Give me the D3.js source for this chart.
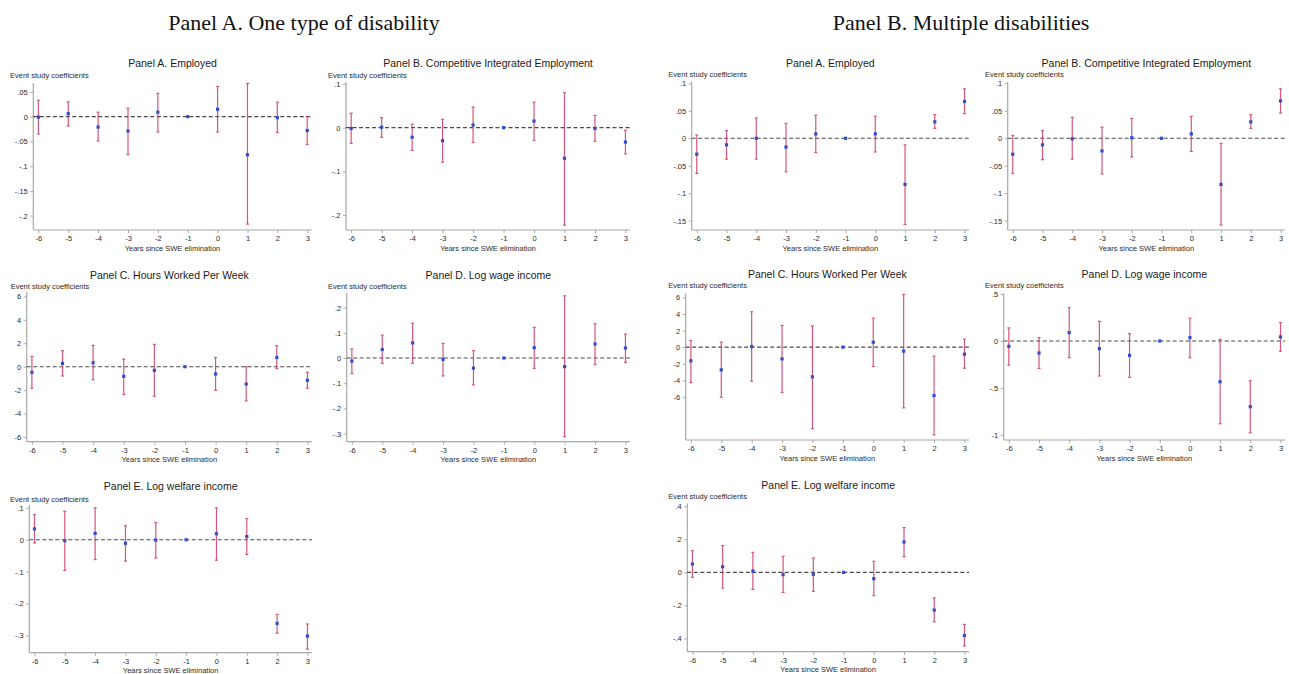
<!DOCTYPE html>
<html>
<head>
<meta charset="utf-8">
<script src="https://cdn.jsdelivr.net/npm/d3@7"></script>
<style>
  html, body { margin: 0; padding: 0; background: #fff; }
  svg { display: block; }
</style>
</head>
<body>
<svg id="chart" width="1289" height="674"></svg>
<script>
// Event-study years relative to elimination of sub-minimum wage employment
const years = [-6, -5, -4, -3, -2, -1, 0, 1, 2, 3];

// ---- One type of disability ----
const oneEmpCoef = [-0.001, 0.006, -0.021, -0.029, 0.009, 0, 0.015, -0.077, -0.002, -0.028];
const oneEmpLo   = [-0.035, -0.019, -0.049, -0.077, -0.031, 0, -0.031, -0.217, -0.032, -0.056];
const oneEmpHi   = [0.033, 0.030, 0.009, 0.017, 0.047, 0, 0.061, 0.067, 0.029, 0.000];

const oneCieCoef = [-0.002, 0.001, -0.022, -0.030, 0.006, 0, 0.015, -0.070, -0.002, -0.033];
const oneCieLo   = [-0.036, -0.022, -0.052, -0.079, -0.034, 0, -0.029, -0.223, -0.031, -0.060];
const oneCieHi   = [0.033, 0.023, 0.008, 0.019, 0.047, 0, 0.058, 0.080, 0.028, -0.006];

const oneHrsCoef = [-0.48, 0.28, 0.34, -0.82, -0.31, 0, -0.62, -1.48, 0.79, -1.16];
const oneHrsLo   = [-1.84, -0.79, -1.11, -2.38, -2.52, 0, -2.01, -2.92, -0.17, -1.84];
const oneHrsHi   = [0.88, 1.36, 1.82, 0.65, 1.90, 0, 0.79, 0.00, 1.79, -0.48];

const oneWageCoef = [-0.012, 0.034, 0.060, -0.005, -0.040, 0, 0.041, -0.034, 0.056, 0.040];
const oneWageLo   = [-0.061, -0.021, -0.021, -0.071, -0.106, 0, -0.041, -0.312, -0.026, -0.017];
const oneWageHi   = [0.036, 0.091, 0.138, 0.058, 0.029, 0, 0.122, 0.247, 0.136, 0.095];

const oneWelfCoef = [0.034, -0.003, 0.020, -0.011, -0.001, 0, 0.019, 0.010, -0.262, -0.302];
const oneWelfLo   = [-0.010, -0.096, -0.062, -0.067, -0.057, 0, -0.064, -0.046, -0.293, -0.343];
const oneWelfHi   = [0.079, 0.089, 0.100, 0.044, 0.054, 0, 0.100, 0.066, -0.234, -0.264];

// ---- Multiple disabilities ----
const multEmpCoef = [-0.029, -0.012, 0.000, -0.016, 0.008, 0, 0.008, -0.084, 0.030, 0.067];
const multEmpLo   = [-0.064, -0.038, -0.038, -0.061, -0.026, 0, -0.025, -0.157, 0.018, 0.045];
const multEmpHi   = [0.006, 0.014, 0.037, 0.027, 0.042, 0, 0.040, -0.012, 0.043, 0.090];

const multCieCoef = [-0.029, -0.012, -0.001, -0.023, 0.001, 0, 0.008, -0.084, 0.030, 0.068];
const multCieLo   = [-0.064, -0.039, -0.038, -0.065, -0.034, 0, -0.024, -0.158, 0.018, 0.046];
const multCieHi   = [0.005, 0.014, 0.038, 0.020, 0.036, 0, 0.040, -0.009, 0.043, 0.090];

const multHrsCoef = [-1.65, -2.74, 0.08, -1.41, -3.58, 0, 0.60, -0.48, -5.83, -0.85];
const multHrsLo   = [-4.27, -6.04, -4.10, -5.47, -9.82, 0, -2.33, -7.32, -10.58, -2.54];
const multHrsHi   = [0.80, 0.60, 4.27, 2.62, 2.58, 0, 3.50, 6.36, -1.09, 0.97];

const multWageCoef = [-0.057, -0.128, 0.089, -0.082, -0.153, 0, 0.036, -0.434, -0.700, 0.043];
const multWageLo   = [-0.256, -0.292, -0.178, -0.373, -0.387, 0, -0.178, -0.882, -0.978, -0.110];
const multWageHi   = [0.139, 0.036, 0.355, 0.210, 0.078, 0, 0.242, 0.018, -0.423, 0.196];

const multWelfCoef = [0.051, 0.034, 0.008, -0.014, -0.012, 0, -0.038, 0.184, -0.228, -0.382];
const multWelfLo   = [-0.030, -0.095, -0.103, -0.121, -0.115, 0, -0.141, 0.095, -0.299, -0.446];
const multWelfHi   = [0.131, 0.162, 0.121, 0.097, 0.087, 0, 0.067, 0.271, -0.154, -0.315];

// Y tick values and labels
const ticksEmp     = [0.05, 0, -0.05, -0.1, -0.15, -0.2];
const labelsEmp    = [".05", "0", "-.05", "-.1", "-.15", "-.2"];
const ticksCie     = [0.1, 0, -0.1, -0.2];
const labelsCie    = [".1", "0", "-.1", "-.2"];
const ticksHrs     = [6, 4, 2, 0, -2, -4, -6];
const labelsHrs    = ["6", "4", "2", "0", "-2", "-4", "-6"];
const ticksWage    = [0.2, 0.1, 0, -0.1, -0.2, -0.3];
const labelsWage   = [".2", ".1", "0", "-.1", "-.2", "-.3"];
const ticksWelf    = [0.1, 0, -0.1, -0.2, -0.3];
const labelsWelf   = [".1", "0", "-.1", "-.2", "-.3"];
const ticksMEmp    = [0.1, 0.05, 0, -0.05, -0.1, -0.15];
const labelsMEmp   = [".1", ".05", "0", "-.05", "-.1", "-.15"];
const ticksMWage   = [0.5, 0, -0.5, -1];
const labelsMWage  = [".5", "0", "-.5", "-1"];
const ticksMWelf   = [0.4, 0.2, 0, -0.2, -0.4];
const labelsMWelf  = [".4", ".2", "0", "-.2", "-.4"];

const groupTitles = ["Panel A. One type of disability", "Panel B. Multiple disabilities"];
const xTitle = "Years since SWE elimination";
const yTitle = "Event study coefficients";

// Panel definitions: data, axis domain and placement on the page
const panels = [
  { title: "Panel A. Employed", coef: oneEmpCoef, lo: oneEmpLo, hi: oneEmpHi,
    ticks: ticksEmp, labels: labelsEmp, domain: [-0.229, 0.068],
    box: { left: 33.3, right: 311.7, top: 83, bottom: 230, labelX: 10, labelY: 75, titleY: 63 } },
  { title: "Panel B. Competitive Integrated Employment", coef: oneCieCoef, lo: oneCieLo, hi: oneCieHi,
    ticks: ticksCie, labels: labelsCie, domain: [-0.234, 0.105],
    box: { left: 346, right: 630, top: 81.7, bottom: 230, labelX: 328, labelY: 75, titleY: 63 } },
  { title: "Panel C. Hours Worked Per Week", coef: oneHrsCoef, lo: oneHrsLo, hi: oneHrsHi,
    ticks: ticksHrs, labels: labelsHrs, domain: [-6.4, 6.4],
    box: { left: 26.7, right: 312, top: 291.7, bottom: 441.7, labelX: 10.7, labelY: 286, titleY: 275 } },
  { title: "Panel D. Log wage income", coef: oneWageCoef, lo: oneWageLo, hi: oneWageHi,
    ticks: ticksWage, labels: labelsWage, domain: [-0.332, 0.257],
    box: { left: 346.7, right: 630, top: 293.3, bottom: 441.7, labelX: 328, labelY: 286, titleY: 275 } },
  { title: "Panel E. Log welfare income", coef: oneWelfCoef, lo: oneWelfLo, hi: oneWelfHi,
    ticks: ticksWelf, labels: labelsWelf, domain: [-0.354, 0.109],
    box: { left: 29.3, right: 312, top: 505, bottom: 652.7, labelX: 10, labelY: 499, titleY: 486.7 } },

  { title: "Panel A. Employed", coef: multEmpCoef, lo: multEmpLo, hi: multEmpHi,
    ticks: ticksMEmp, labels: labelsMEmp, domain: [-0.167, 0.103],
    box: { left: 691.7, right: 969, top: 81.7, bottom: 230, labelX: 668.3, labelY: 74.5, titleY: 63 } },
  { title: "Panel B. Competitive Integrated Employment", coef: multCieCoef, lo: multCieLo, hi: multCieHi,
    ticks: ticksMEmp, labels: labelsMEmp, domain: [-0.167, 0.103],
    box: { left: 1007.7, right: 1285, top: 81.7, bottom: 230, labelX: 985, labelY: 74.5, titleY: 63 } },
  { title: "Panel C. Hours Worked Per Week", coef: multHrsCoef, lo: multHrsLo, hi: multHrsHi,
    ticks: ticksHrs, labels: labelsHrs, domain: [-11.2, 6.5],
    box: { left: 685.7, right: 969, top: 293.3, bottom: 440, labelX: 668.3, labelY: 285, titleY: 274 } },
  { title: "Panel D. Log wage income", coef: multWageCoef, lo: multWageLo, hi: multWageHi,
    ticks: ticksMWage, labels: labelsMWage, domain: [-1.055, 0.508],
    box: { left: 1003.7, right: 1285, top: 293.3, bottom: 440, labelX: 985, labelY: 285, titleY: 274 } },
  { title: "Panel E. Log welfare income", coef: multWelfCoef, lo: multWelfLo, hi: multWelfHi,
    ticks: ticksMWelf, labels: labelsMWelf, domain: [-0.48, 0.418],
    box: { left: 687.3, right: 969, top: 503.3, bottom: 651.7, labelX: 668.3, labelY: 496, titleY: 485 } }
];

const svg = d3.select("#chart");
const sans = "'Liberation Sans', Arial, sans-serif";
const axisColor = "#a8a8a8";
const textColor = "#2b2b2b";
const ciColor = "#cf3a64";
const pointColor = "#2d4fcf";

// Group headings
const headingX = [304, 961];
svg.selectAll("text.heading").data(groupTitles).join("text")
  .attr("class", "heading")
  .attr("x", (d, i) => headingX[i])
  .attr("y", 30)
  .attr("text-anchor", "middle")
  .attr("font-family", "'Liberation Serif', 'Times New Roman', serif")
  .attr("font-size", 22)
  .attr("fill", "#111")
  .text(d => d);

panels.forEach(p => {
  const b = p.box;
  const x = d3.scaleLinear().domain([-6.17, 3.15]).range([b.left, b.right]);
  const y = d3.scaleLinear().domain(p.domain).range([b.bottom, b.top]);
  const g = svg.append("g");

  // panel title
  g.append("text")
    .attr("x", (b.left + b.right) / 2)
    .attr("y", b.titleY)
    .attr("dy", "0.35em")
    .attr("text-anchor", "middle")
    .attr("font-family", sans)
    .attr("font-size", 10.5)
    .attr("fill", "#1a1a1a")
    .text(p.title);

  // y axis title (horizontal, above the axis)
  g.append("text")
    .attr("x", b.labelX)
    .attr("y", b.labelY)
    .attr("dy", "0.35em")
    .attr("font-family", sans)
    .attr("font-size", 7.5)
    .attr("fill", textColor)
    .text(yTitle);

  // y axis
  const yAxis = d3.axisLeft(y)
    .tickValues(p.ticks)
    .tickFormat((d, i) => p.labels[i])
    .tickSize(3)
    .tickPadding(2.5);
  const ya = g.append("g").attr("transform", `translate(${b.left},0)`).call(yAxis);
  ya.select(".domain").remove();
  ya.append("line")
    .attr("x1", 0).attr("x2", 0)
    .attr("y1", b.top).attr("y2", b.bottom)
    .attr("stroke", axisColor).attr("stroke-width", 1.2);
  ya.selectAll(".tick line").attr("stroke", axisColor);
  ya.selectAll(".tick text")
    .attr("font-family", sans).attr("font-size", 7.5).attr("fill", textColor);

  // x axis
  const xAxis = d3.axisBottom(x)
    .tickValues(years)
    .tickFormat(d3.format("d"))
    .tickSize(3)
    .tickPadding(2.5);
  const xa = g.append("g").attr("transform", `translate(0,${b.bottom})`).call(xAxis);
  xa.select(".domain").remove();
  xa.append("line")
    .attr("x1", b.left).attr("x2", b.right)
    .attr("y1", 0).attr("y2", 0)
    .attr("stroke", axisColor).attr("stroke-width", 1.2);
  xa.selectAll(".tick line").attr("stroke", axisColor);
  xa.selectAll(".tick text")
    .attr("font-family", sans).attr("font-size", 7.5).attr("fill", textColor)
    .text(d => d < 0 ? "-" + Math.abs(d) : d);

  // x axis title
  g.append("text")
    .attr("x", (b.left + b.right) / 2)
    .attr("y", b.bottom + 18)
    .attr("dy", "0.35em")
    .attr("text-anchor", "middle")
    .attr("font-family", sans)
    .attr("font-size", 7.5)
    .attr("fill", textColor)
    .text(xTitle);

  // reference line at zero
  g.append("line")
    .attr("x1", b.left).attr("x2", b.right)
    .attr("y1", y(0)).attr("y2", y(0))
    .attr("stroke", "#4a4a4a")
    .attr("stroke-width", 1.1)
    .attr("stroke-dasharray", "4,2.5");

  const rows = years.map((yr, i) => ({ yr, c: p.coef[i], lo: p.lo[i], hi: p.hi[i] }));
  const withCI = rows.filter(r => r.hi !== r.lo);

  // confidence intervals with caps
  const ci = g.append("g").attr("stroke", ciColor).attr("stroke-width", 1.2).attr("opacity", 0.85);
  ci.selectAll("line.bar").data(withCI).join("line")
    .attr("x1", r => x(r.yr)).attr("x2", r => x(r.yr))
    .attr("y1", r => y(r.lo)).attr("y2", r => y(r.hi));
  ci.selectAll("line.capHi").data(withCI).join("line")
    .attr("x1", r => x(r.yr) - 1.5).attr("x2", r => x(r.yr) + 1.5)
    .attr("y1", r => y(r.hi)).attr("y2", r => y(r.hi));
  ci.selectAll("line.capLo").data(withCI).join("line")
    .attr("x1", r => x(r.yr) - 1.5).attr("x2", r => x(r.yr) + 1.5)
    .attr("y1", r => y(r.lo)).attr("y2", r => y(r.lo));

  // point estimates
  g.selectAll("rect.pt").data(rows).join("rect")
    .attr("x", r => x(r.yr) - 1.6)
    .attr("y", r => y(r.c) - 1.6)
    .attr("width", 3.2)
    .attr("height", 3.2)
    .attr("fill", pointColor);
});
</script>
</body>
</html>
